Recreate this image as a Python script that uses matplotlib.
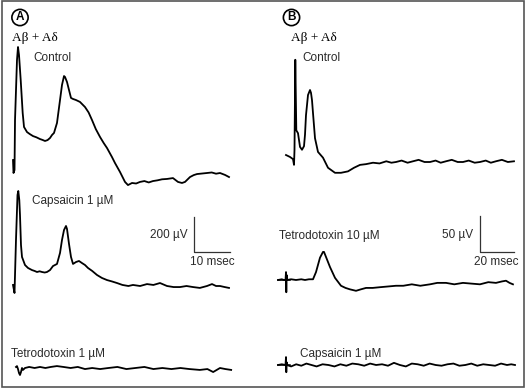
import numpy as np
import matplotlib.pyplot as plt
from matplotlib.patches import Rectangle

# ---- panel A traces: time (msec) from stimulus, voltage (uV) re baseline
ctrlA_t = [0, 0.14, 0.42, 0.56, 1.11, 1.39, 1.67, 2.14, 2.69, 3.06, 3.89, 4.7, 5.56, 6.5, 7.5, 8.2,
           8.89, 9.6, 10.28, 10.83, 11.39, 12.22, 13.06, 13.61, 14.17, 14.44, 15.0, 15.56, 16.11,
           16.67, 17.5, 18.61, 20.0, 21.0, 21.94, 23.0, 24.17, 25.2, 26.11, 27.5, 28.33, 29.72,
           31.11, 31.94, 33.06, 34.2, 35.28, 36.5, 37.7, 38.89, 40.1, 41.4, 42.78, 44.44, 45.83,
           46.94, 47.78, 49.17, 50.2, 51.11, 52.5, 53.89, 55.2, 56.4, 57.5, 58.89, 60.0]
ctrlA_v = [114, 40, 57, 343, 686, 760, 714, 571, 383, 303, 274, 262, 251, 244, 234, 229,
           223, 228, 240, 257, 269, 326, 457, 543, 594, 589, 560, 514, 469,
           463, 457, 446, 417, 386, 343, 291, 246, 211, 183, 131, 97, 46,
           -11, -29, -17, -20, -11, -6, -14, -6, -2, 4, 6, 11, -11,
           -17, -11, 17, 28, 34, 37, 40, 43, 36, 40, 29, 17]

capsA_t = [0, 0.42, 0.83, 1.25, 1.47, 1.75, 1.94, 2.22, 2.5, 3.33, 4.17, 5.28, 6.0, 6.67, 7.4, 8.06,
           8.8, 9.44, 10.28, 11.11, 12.22, 13.06, 13.61, 14.17, 14.72, 15.0, 15.56, 16.11, 16.67,
           17.5, 18.33, 19.17, 20.0, 20.83, 22.0, 23.33, 24.7, 26.11, 27.5, 28.89, 30.4, 32.06,
           33.33, 35.3, 37.22, 39.0, 40.83, 42.78, 44.6, 46.39, 48.2, 50.0, 51.9, 53.89, 55.28,
           56.4, 57.5, 58.8, 60.0]
capsA_v = [6, -40, 263, 520, 543, 491, 406, 234, 166, 120, 103, 91, 86, 80, 84, 80,
           77, 80, 91, 114, 126, 189, 263, 320, 343, 326, 240, 166, 126,
           137, 143, 131, 120, 103, 86, 63, 46, 34, 26, 17, 6, 0,
           6, 0, 11, 6, 17, 0, -6, -6, 0, -6, -11, 0, 11,
           0, 0, -6, -11]

ttxA_t = [0.83, 1.11, 1.39, 1.67, 1.94, 2.22, 2.5, 2.78, 3.33, 4.5, 6.0, 7.5, 9.0, 10.5, 12.2, 14.0,
          16.0, 18.0, 20.0, 22.0, 24.2, 26.5, 29.0, 31.5, 34.0, 36.5, 39.0, 41.5, 44.0, 46.5,
          49.0, 51.9, 54.0, 55.6, 57.5, 59.0, 60.6]
ttxA_v = [6, 11, -6, -29, -40, -23, 0, -11, 0, 6, 0, 6, 0, 6, 11, 6,
          0, 6, -6, 0, -6, 0, 6, -6, 0, 6, -6, 0, -6, 0,
          -6, -11, -6, -23, 0, -6, -11]

# ---- panel B traces
ctrlB_t = [0, 2.35, 4.12, 4.71, 5.0, 5.47, 6.06, 7.06, 8.24, 9.41, 10.59, 11.18, 11.76, 12.94,
           14.12, 14.71, 15.29, 15.88, 17.06, 18.82, 21.76, 24.71, 28.82, 32.35, 36.47, 40.0,
           43.53, 47.0, 51.18, 55.0, 59.0, 62.0, 64.71, 68.0, 71.5, 74.71, 78.0, 81.5, 84.71, 88.0,
           91.0, 94.12, 97.5, 101.0, 104.1, 107.5, 111.0, 114.1, 117.5, 120.5, 123.5, 127.0,
           130.5, 134.1]
ctrlB_v = [9.7, 7, 4, -4, 17, 142, 44, 40, 21, 17, 22, 38, 65, 93,
           100, 96, 86, 68, 33, 14, 6, -8, -15, -15, -13, -8,
           -4, -3, -1, -2, 1, -1, 0, 2, -1, 1, 3, 0, 0, 2,
           -1, 1, 3, 0, 0, 2, -1, 0, 2, -1, 1, 3, 0, 1]

ttxB_t = [-4.71, -2.5, -1.18, -0.29, 0, 0.18, 0.35, 0.59, 3.0, 5.88, 9.0, 11.18, 13.5, 15.88, 17.65,
          20.0, 21.76, 22.35, 23.53, 25.88, 28.82, 32.35, 35.0, 37.65, 41.18, 44.0, 47.06, 51.0,
          55.29, 60.0, 64.71, 69.0, 74.0, 79.0, 84.71, 89.0, 94.12, 99.0, 104.1, 109.0, 114.1,
          119.0, 123.5, 127.0, 129.4, 131.5, 133.5]
ttxB_v = [0, 1, 0, 0, 11, -17, 7, 0, 1, 0, 1, 0, 1, 1, 11,
          31, 39, 39, 32, 18, 3, -8, -11, -13, -15, -13, -11, -11,
          -10, -9, -8, -8, -6, -8, -6, -4, -4, -6, -4, -5, -6,
          -3, -4, -2, -1, -4, -6]

capsB_t = [-4.71, -2.5, -0.29, 0, 0.18, 0.35, 0.59, 3.0, 6.0, 9.0, 12.0, 15.0, 18.0, 21.5, 25.0,
           28.5, 32.0, 35.5, 39.0, 42.5, 46.0, 49.5, 53.0, 56.5, 60.0, 63.5, 67.0, 70.5, 74.0,
           77.5, 81.0, 84.5, 88.0, 91.5, 95.0, 98.5, 102.0, 105.5, 109.0, 112.5, 116.0, 119.5,
           123.0, 126.5, 130.0, 132.5, 134.7]
capsB_v = [0, 1, 0, 11, -10, 4, 0, -2, 1, -1, 2, 0, -2, 1, 0,
           -2, 1, -1, 2, 1, -1, 2, 0, 1, -1, 3, 0, -2, 2,
           1, -1, 2, 0, -1, 1, 2, -1, 0, 2, -1, 1, 0,
           -1, 2, 0, 1, 0]

W, H = 526, 388
fig = plt.figure(figsize=(W / 100, H / 100), dpi=100)
fig.patch.set_facecolor('white')

# scales: panel A 10 ms = 36 px, 200 uV = 35 px; panel B 20 ms = 34 px, 50 uV = 36 px
uvA = 200 / 35.0
uvB = 50 / 36.0

axA = fig.add_axes([0, 0, 0.5, 1])
axA.set_xlim((0 - 13) / 3.6, (263 - 13) / 3.6)
axA.set_ylim(-H * uvA, 0)
axB = fig.add_axes([0.5, 0, 0.5, 1])
axB.set_xlim((263 - 286) / 1.7, (526 - 286) / 1.7)
axB.set_ylim(-H * uvB, 0)
for ax in (axA, axB):
    ax.axis('off')

lw = 1.3
axA.plot(ctrlA_t, np.array(ctrlA_v) - 180 * uvA, color='black', lw=lw)
axA.plot(capsA_t, np.array(capsA_v) - 286 * uvA, color='black', lw=lw)
axA.plot(ttxA_t, np.array(ttxA_v) - 368 * uvA, color='black', lw=lw)
axB.plot(ctrlB_t, np.array(ctrlB_v) - 162 * uvB, color='black', lw=lw)
axB.plot(ttxB_t, np.array(ttxB_v) - 280 * uvB, color='black', lw=lw)
axB.plot(capsB_t, np.array(capsB_v) - 365 * uvB, color='black', lw=lw)
# stimulus artifact crosses in B
axB.plot([-4.7, 2.4], [-280 * uvB, -280 * uvB], color='black', lw=1.1)
axB.plot([-4.7, 2.4], [-365 * uvB, -365 * uvB], color='black', lw=1.1)

# scale bars
sbA_x, sbA_y = (194 - 13) / 3.6, -252 * uvA
axA.plot([sbA_x, sbA_x, sbA_x + 10], [sbA_y + 200, sbA_y, sbA_y], color='#333333', lw=0.9)
sbB_x, sbB_y = (480 - 286) / 1.7, -252 * uvB
axB.plot([sbB_x, sbB_x, sbB_x + 20], [sbB_y + 50, sbB_y, sbB_y], color='#333333', lw=0.9)

sans = ['Liberation Sans', 'DejaVu Sans']
serif = ['Liberation Serif', 'DejaVu Serif']
tc = '#2a2a2a'


def put(x, y, s, **kw):
    kw.setdefault('family', sans)
    kw.setdefault('fontsize', 8.5)
    kw.setdefault('color', tc)
    fig.text(x / W, 1 - y / H, s, va='center', **kw)


for cx, cy, letter in [(20, 17.5, 'A'), (291.5, 17.5, 'B')]:
    put(cx, cy, letter, ha='center', fontsize=8.5, fontweight='bold', color='black',
        bbox=dict(boxstyle='circle,pad=0.18', fc='white', ec='black', lw=1.2))

put(12, 38, 'A\u03b2 + A\u03b4', family=serif, fontsize=9.5, color='black')
put(291, 38, 'A\u03b2 + A\u03b4', family=serif, fontsize=9.5, color='black')
put(33, 58, 'Control')
put(302, 58, 'Control')
put(32, 201, 'Capsaicin 1 \u00b5M')
put(188, 235, '200 \u00b5V', ha='right')
put(190, 262, '10 msec')
put(11, 354, 'Tetrodotoxin 1 \u00b5M')
put(279, 236, 'Tetrodotoxin 10 \u00b5M')
put(473, 235, '50 \u00b5V', ha='right')
put(474, 262, '20 msec')
put(300, 354, 'Capsaicin 1 \u00b5M')

fig.patches.append(Rectangle((1.5 / W, 1.5 / H), (W - 3.5) / W, (H - 2.5) / H,
                             transform=fig.transFigure, fill=False, ec='#555555', lw=1.2))

fig.savefig('out.png', dpi=100)
